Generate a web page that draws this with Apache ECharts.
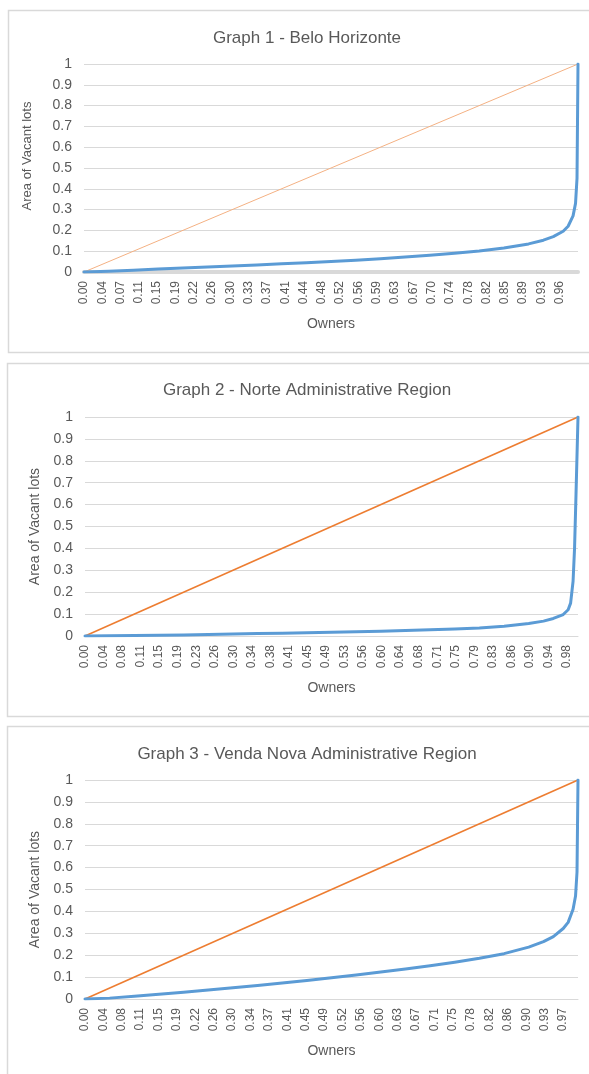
<!DOCTYPE html>
<html>
<head>
<meta charset="utf-8">
<script src="https://cdn.jsdelivr.net/npm/echarts@6/dist/echarts.min.js"></script>
<style>
  html, body { margin: 0; padding: 0; background: #ffffff; }
  #chart { width: 589px; height: 1074px; }
</style>
</head>
<body>
<div id="chart"></div>
<script>
// Lorenz curves: cumulative share of owners (x) vs cumulative share of vacant-lot area (y)
const owners1 = [0, 0.05, 0.1, 0.15, 0.2, 0.25, 0.3, 0.35, 0.4, 0.45, 0.5, 0.55, 0.6, 0.65, 0.7, 0.75, 0.8, 0.85, 0.9, 0.93, 0.95, 0.97, 0.98, 0.99, 0.995, 0.998, 1.0];
const area1   = [0, 0.004, 0.009, 0.014, 0.019, 0.024, 0.029, 0.034, 0.040, 0.045, 0.051, 0.057, 0.064, 0.072, 0.080, 0.090, 0.101, 0.115, 0.135, 0.153, 0.170, 0.196, 0.22, 0.27, 0.33, 0.45, 1.0];

const owners2 = [0, 0.05, 0.1, 0.15, 0.2, 0.25, 0.3, 0.35, 0.4, 0.45, 0.5, 0.55, 0.6, 0.65, 0.7, 0.75, 0.8, 0.85, 0.9, 0.93, 0.95, 0.97, 0.98, 0.985, 0.99, 0.993, 0.996, 1.0];
const area2   = [0, 0.001, 0.002, 0.003, 0.005, 0.007, 0.009, 0.011, 0.013, 0.015, 0.017, 0.019, 0.022, 0.025, 0.028, 0.032, 0.037, 0.045, 0.057, 0.068, 0.08, 0.098, 0.12, 0.15, 0.25, 0.4, 0.65, 1.0];

const owners3 = [0, 0.05, 0.1, 0.15, 0.2, 0.25, 0.3, 0.35, 0.4, 0.45, 0.5, 0.55, 0.6, 0.65, 0.7, 0.75, 0.8, 0.85, 0.9, 0.93, 0.95, 0.97, 0.98, 0.99, 0.995, 0.998, 1.0];
const area3   = [0, 0.004, 0.013, 0.022, 0.031, 0.041, 0.051, 0.062, 0.073, 0.085, 0.097, 0.110, 0.123, 0.137, 0.152, 0.168, 0.186, 0.207, 0.237, 0.262, 0.285, 0.322, 0.35, 0.41, 0.47, 0.58, 1.0];

// Line of perfect equality
const equalityX = [0, 1];
const equalityY = [0, 1];

// Owner-axis tick labels and their spacing for each region
const ownerStep1 = 1 / 27;
const ownerTicks1 = ['0.00','0.04','0.07','0.11','0.15','0.19','0.22','0.26','0.30','0.33','0.37','0.41','0.44','0.48','0.52','0.56','0.59','0.63','0.67','0.70','0.74','0.78','0.82','0.85','0.89','0.93','0.96'];
const ownerStep2 = 0.0376;
const ownerTicks2 = ['0.00','0.04','0.08','0.11','0.15','0.19','0.23','0.26','0.30','0.34','0.38','0.41','0.45','0.49','0.53','0.56','0.60','0.64','0.68','0.71','0.75','0.79','0.83','0.86','0.90','0.94','0.98'];
const ownerStep3 = 0.0373;
const ownerTicks3 = ['0.00','0.04','0.08','0.11','0.15','0.19','0.22','0.26','0.30','0.34','0.37','0.41','0.45','0.49','0.52','0.56','0.60','0.63','0.67','0.71','0.75','0.78','0.82','0.86','0.90','0.93','0.97'];

const titles = [
  'Graph 1 - Belo Horizonte',
  'Graph 2 - Norte Administrative Region',
  'Graph 3 - Venda Nova Administrative Region'
];
const yName = 'Area of Vacant lots';
const xName = 'Owners';

const FONT = '"Liberation Sans", Arial, sans-serif';
const TEXT = '#595959';
const GRID_LINE = '#d9d9d9';
const BLUE = '#5B9BD5';

const zip = (xs, ys) => xs.map((x, i) => [x, ys[i]]);

const panels = [
  { owners: owners1, area: area1, step: ownerStep1, ticks: ownerTicks1,
    box: [8.5, 10.5, 342], grid: { left: 84, top: 64, width: 494, height: 208 },
    titleTop: 25, yNameGap: 50, yNameSize: 13, yNamePad: [0, 0, 0, 24],
    axisW: 4, eqColor: '#F4B183', eqW: 1 },
  { owners: owners2, area: area2, step: ownerStep2, ticks: ownerTicks2,
    box: [7.5, 363.5, 353], grid: { left: 85, top: 417, width: 493, height: 219 },
    titleTop: 377, yNameGap: 34, yNameSize: 14, yNamePad: 0,
    axisW: 1, eqColor: '#ED7D31', eqW: 1.6 },
  { owners: owners3, area: area3, step: ownerStep3, ticks: ownerTicks3,
    box: [7.5, 726.5, 400], grid: { left: 85, top: 780, width: 493, height: 219 },
    titleTop: 741, yNameGap: 34, yNameSize: 14, yNamePad: 0,
    axisW: 1, eqColor: '#ED7D31', eqW: 1.6 }
];

const option = {
  animation: false,
  backgroundColor: '#ffffff',
  textStyle: { fontFamily: FONT },
  graphic: panels.map(p => ({
    type: 'rect', z: -10, silent: true,
    shape: { x: p.box[0], y: p.box[1], width: 620, height: p.box[2] },
    style: { fill: '#ffffff', stroke: GRID_LINE, lineWidth: 1.5 }
  })),
  title: panels.map((p, i) => ({
    text: titles[i], left: 302, top: p.titleTop, textAlign: 'center',
    textStyle: { color: TEXT, fontSize: 17, fontWeight: 'normal', fontFamily: FONT }
  })),
  grid: panels.map(p => Object.assign({ containLabel: false }, p.grid)),
  xAxis: panels.map((p, i) => ({
    type: 'value', gridIndex: i, min: 0, max: 1, interval: p.step,
    name: xName, nameLocation: 'middle', nameGap: 45,
    nameTextStyle: { color: TEXT, fontSize: 14, fontFamily: FONT },
    axisLine: { show: true, lineStyle: { color: GRID_LINE, width: p.axisW } },
    axisTick: { show: false },
    splitLine: { show: false },
    axisLabel: {
      rotate: 90, color: TEXT, fontSize: 12, margin: 9, fontFamily: FONT,
      showMaxLabel: false,
      formatter: v => { const k = Math.round(v / p.step); return p.ticks[k] !== undefined && v < 0.999 ? p.ticks[k] : ''; }
    }
  })),
  yAxis: panels.map((p, i) => ({
    type: 'value', gridIndex: i, min: 0, max: 1, interval: 0.1,
    name: yName, nameLocation: 'middle', nameGap: p.yNameGap,
    nameTextStyle: { color: TEXT, fontSize: p.yNameSize, fontFamily: FONT, padding: p.yNamePad },
    axisLine: { show: false }, axisTick: { show: false },
    splitLine: { show: true, lineStyle: { color: GRID_LINE, width: 1 } },
    axisLabel: {
      color: TEXT, fontSize: 14, margin: 12, fontFamily: FONT,
      formatter: v => String(Number(v.toFixed(1)))
    }
  })),
  series: panels.flatMap((p, i) => [
    {
      type: 'line', xAxisIndex: i, yAxisIndex: i, showSymbol: false, silent: true,
      data: zip(equalityX, equalityY), z: 2,
      lineStyle: { color: p.eqColor, width: p.eqW }
    },
    {
      type: 'line', xAxisIndex: i, yAxisIndex: i, showSymbol: false, silent: true,
      data: zip(p.owners, p.area), z: 3,
      lineStyle: { color: BLUE, width: 3, cap: 'round', join: 'round' }
    }
  ])
};

const chart = echarts.init(document.getElementById('chart'), null, { renderer: 'canvas' });
chart.setOption(option);
</script>
</body>
</html>
